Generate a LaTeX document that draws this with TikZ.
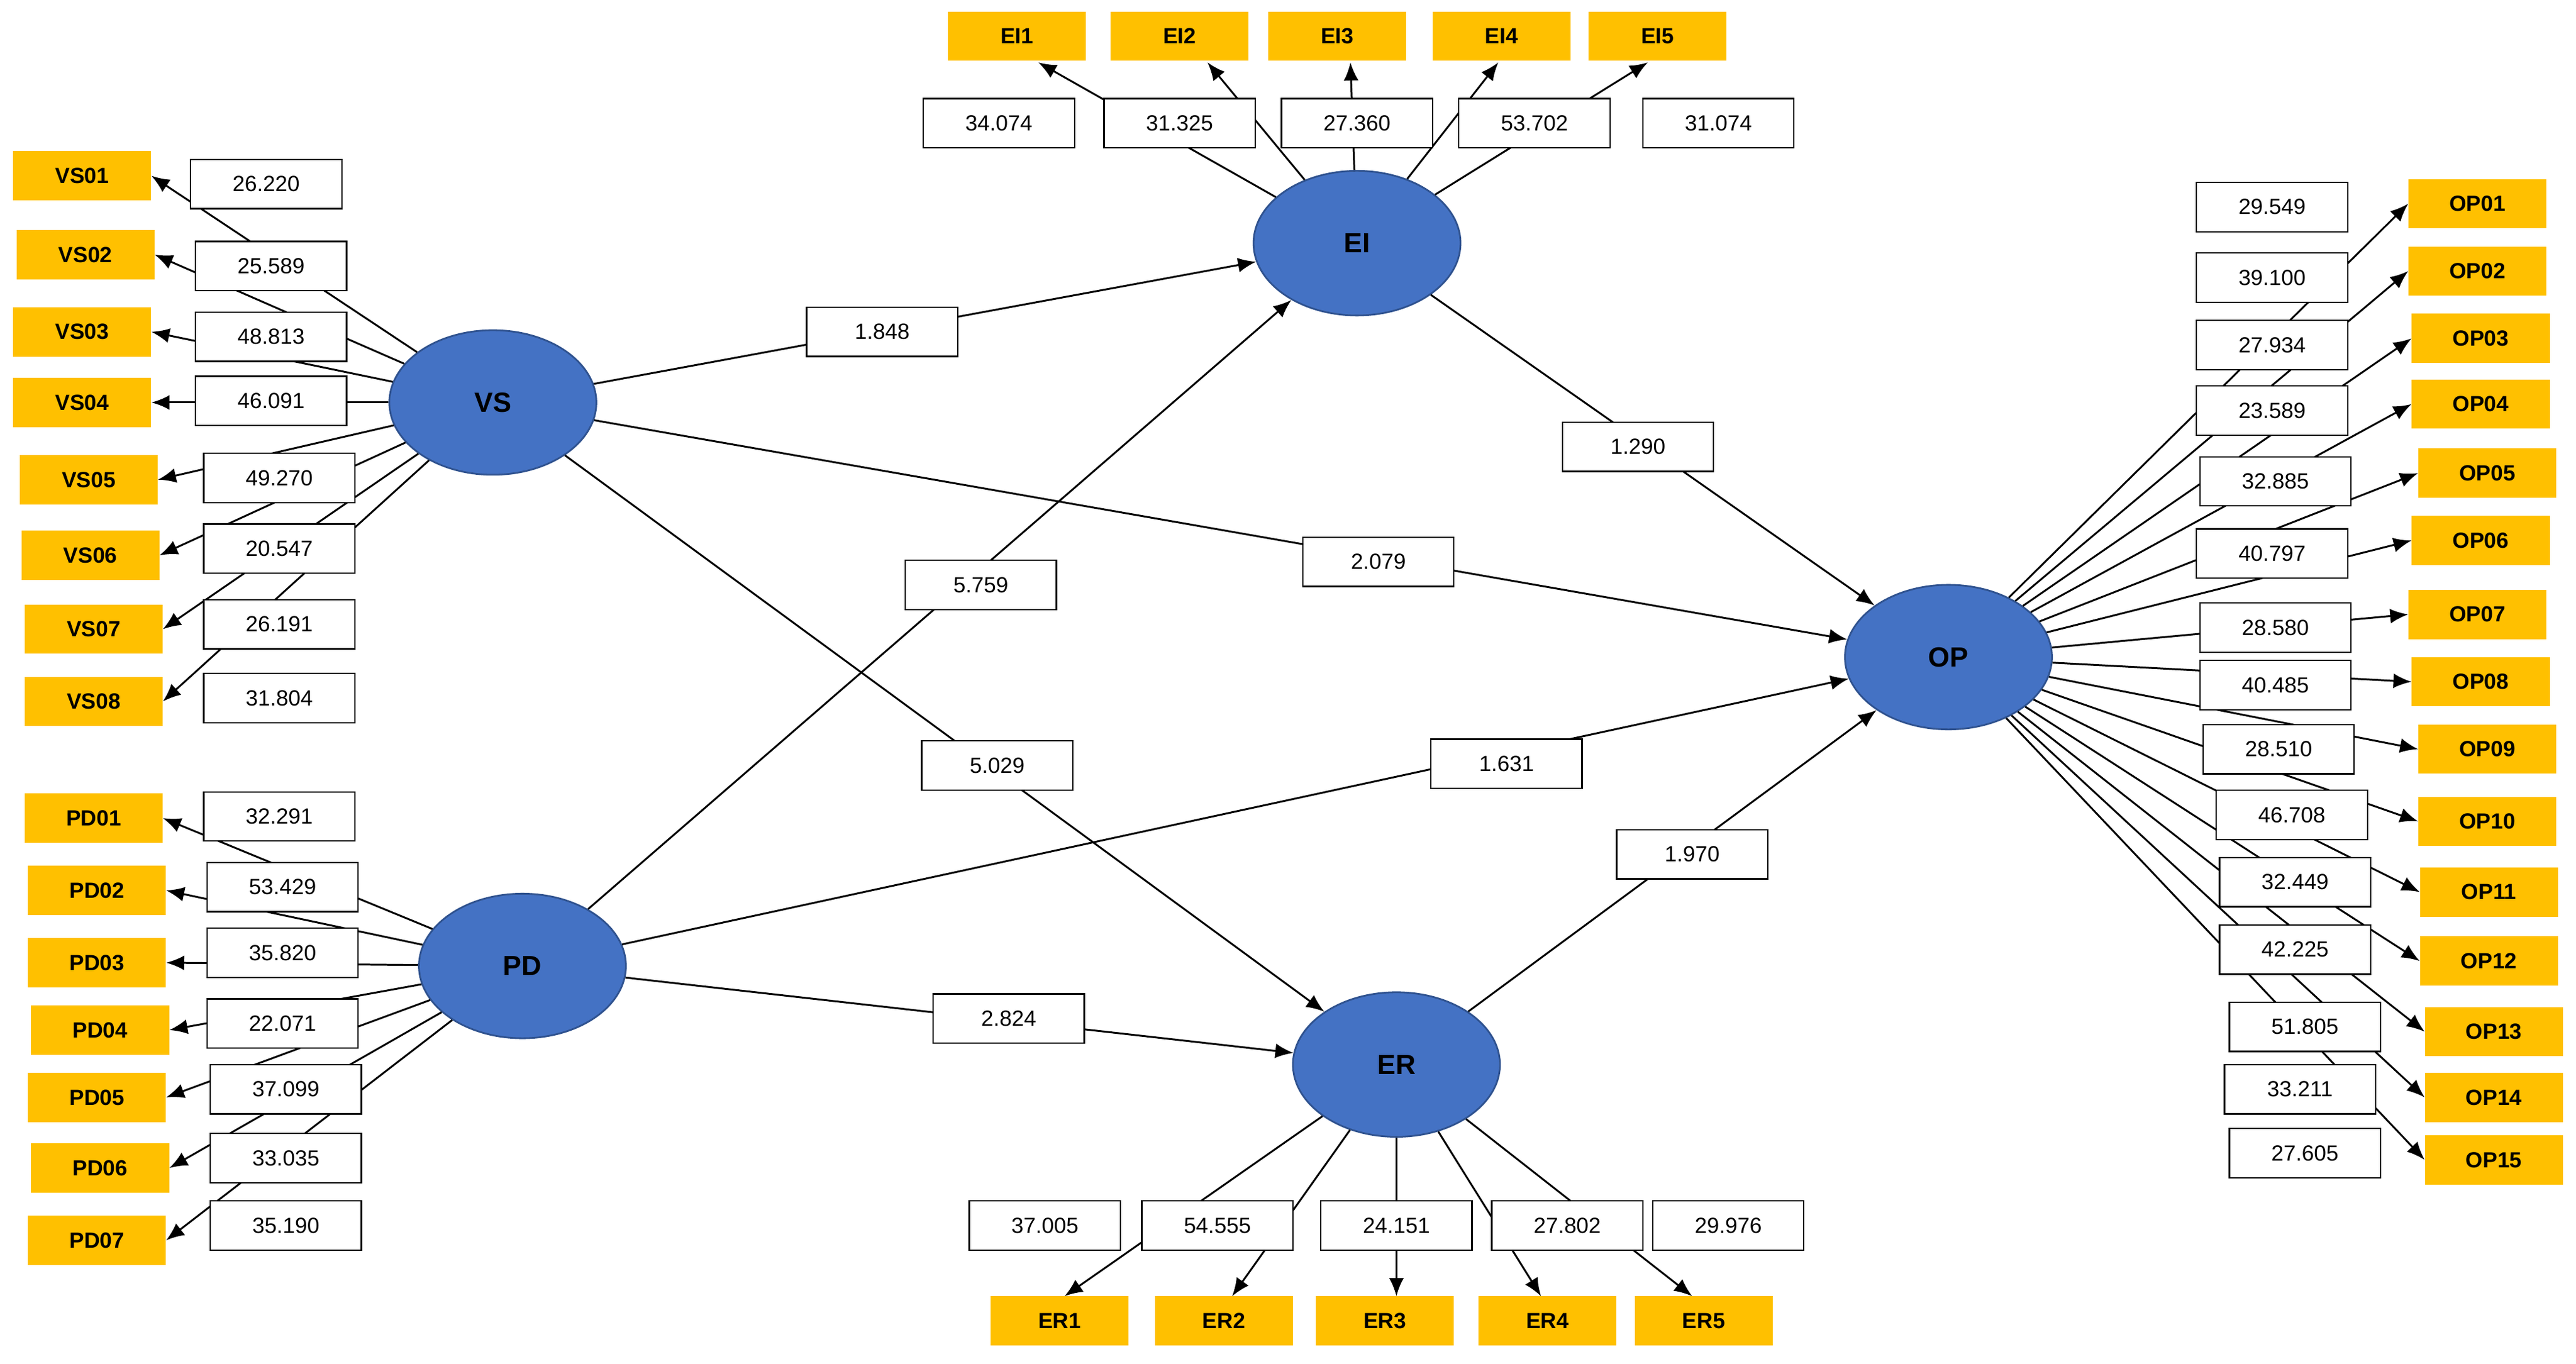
\documentclass[tikz,border=0pt]{standalone}
\usepackage{fontspec}
\setmainfont{Liberation Sans}
\usetikzlibrary{arrows.meta,shapes.geometric}
\definecolor{yel}{HTML}{FFC000}
\definecolor{blu}{HTML}{4472C4}
\definecolor{bld}{HTML}{2F528F}
\begin{document}
\begin{tikzpicture}[x=0.05cm,y=-0.05cm,
 ind/.style={fill=yel,draw=none,minimum width=4.2cm,minimum height=1.5cm,font=\fontsize{19}{22}\selectfont\bfseries,inner sep=0pt},
 val/.style={fill=white,draw=black,line width=1.2pt,minimum width=4.6cm,minimum height=1.5cm,font=\fontsize{19}{22}\selectfont,inner sep=0pt},
 lat/.style={ellipse,fill=blu,draw=bld,line width=1.5pt,minimum width=6.3cm,minimum height=4.4cm,font=\fontsize{24}{28}\selectfont\bfseries,inner sep=0pt},
 ar/.style={draw=black,line width=1.6pt,-{Latex[length=0.55cm,width=0.45cm]}}]
\useasboundingbox (0,0) rectangle (1568,830);
% latent variables
\node[lat] (EI) at (826,148) {EI};
\node[lat] (VS) at (300,245) {VS};
\node[lat] (PD) at (318,588) {PD};
\node[lat] (ER) at (850,648) {ER};
\node[lat] (OP) at (1186,400) {OP};
% VS indicators
\foreach \n/\x/\y in {01/50/107,02/52/155,03/50/202,04/50/245,05/54/292,06/55/338,07/57/383,08/57/427}{
 \node[ind] (vs\n) at (\x,\y) {VS\n};
 \draw[ar] (VS) -- (vs\n.east);}
\foreach \n/\x/\y/\v in {1/162/112/26.220,2/165/162/25.589,3/165/205/48.813,4/165/244/46.091,5/170/291/49.270,6/170/334/20.547,7/170/380/26.191,8/170/425/31.804}{
 \node[val] (vsv\n) at (\x,\y) {\v};}
% PD indicators
\foreach \n/\x/\y in {01/57/498,02/59/542,03/59/586,04/61/627,05/59/668,06/61/711,07/59/755}{
 \node[ind] (pd\n) at (\x,\y) {PD\n};
 \draw[ar] (PD) -- (pd\n.east);}
\foreach \n/\x/\y/\v in {1/170/497/32.291,2/172/540/53.429,3/172/580/35.820,4/172/623/22.071,5/174/663/37.099,6/174/705/33.035,7/174/746/35.190}{
 \node[val] (pdv\n) at (\x,\y) {\v};}
% EI indicators
\foreach \n/\x/\y/\tx in {1/619/22/632,2/718/22/735,3/814/22/822,4/914/22/912,5/1009/22/1003}{
 \node[ind] (ei\n) at (\x,\y) {EI\n};
 \coordinate (eit\n) at (\tx,38);
 \draw[ar] (EI) -- (eit\n);}
\foreach \n/\x/\v in {1/608/34.074,2/718/31.325,3/826/27.360,4/934/53.702,5/1046/31.074}{
 \node[val] (eiv\n) at (\x,75) {\v};}
% ER indicators
\foreach \n/\x/\tx in {1/645/648,2/745/750,3/843/850,4/942/938,5/1037/1030}{
 \node[ind] (er\n) at (\x,804) {ER\n};
 \coordinate (ert\n) at (\tx,789);
 \draw[ar] (ER) -- (ert\n);}
\foreach \n/\x/\v in {1/636/37.005,2/741/54.555,3/850/24.151,4/954/27.802,5/1052/29.976}{
 \node[val] (erv\n) at (\x,746) {\v};}
% OP indicators
\foreach \n/\x/\y in {01/1508/124,02/1508/165,03/1510/206,04/1510/246,05/1514/288,06/1510/329,07/1508/374,08/1510/415,09/1514/456,10/1514/500,11/1515/543,12/1515/585,13/1518/628,14/1518/668,15/1518/706}{
 \node[ind] (op\n) at (\x,\y) {OP\n};
 \draw[ar] (OP) -- (op\n.west);}
\foreach \n/\x/\y/\v in {1/1383/126/29.549,2/1383/169/39.100,3/1383/210/27.934,4/1383/250/23.589,5/1385/293/32.885,6/1383/337/40.797,7/1385/382/28.580,8/1385/417/40.485,9/1387/456/28.510,10/1395/496/46.708,11/1397/537/32.449,12/1397/578/42.225,13/1403/625/51.805,14/1400/663/33.211,15/1403/702/27.605}{
 \node[val] (opv\n) at (\x,\y) {\v};}
% structural paths
\draw[ar] (VS) -- (EI);
\draw[ar] (EI) -- (OP);
\draw[ar] (VS) -- (OP);
\draw[ar] (PD) -- (EI);
\draw[ar] (VS) -- (ER);
\draw[ar] (PD) -- (OP);
\draw[ar] (ER) -- (OP);
\draw[ar] (PD) -- (ER);
\node[val] (p1) at (537,202) {1.848};
\node[val] (p2) at (997,272) {1.290};
\node[val] (p3) at (839,342) {2.079};
\node[val] (p4) at (597,356) {5.759};
\node[val] (p5) at (607,466) {5.029};
\node[val] (p6) at (917,465) {1.631};
\node[val] (p7) at (1030,520) {1.970};
\node[val] (p8) at (614,620) {2.824};
\end{tikzpicture}
\end{document}
